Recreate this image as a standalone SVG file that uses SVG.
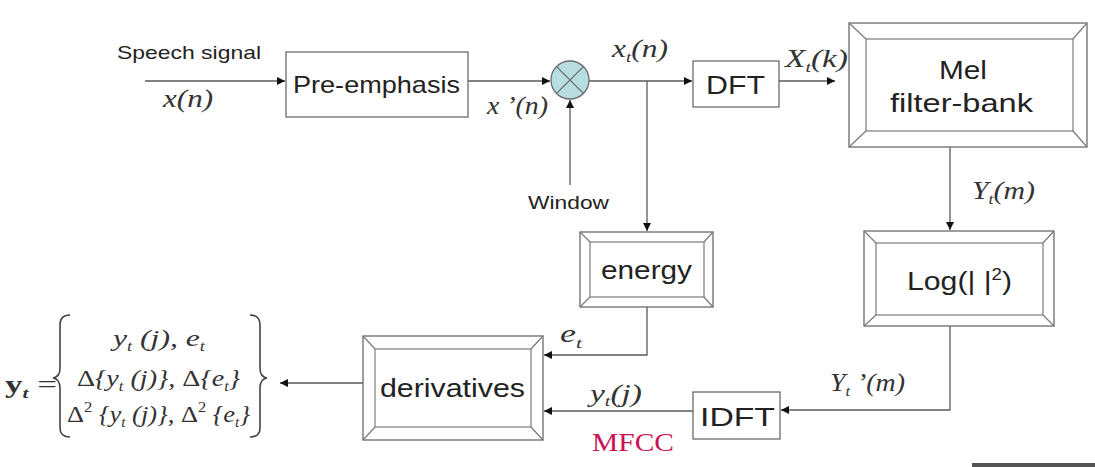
<svg xmlns="http://www.w3.org/2000/svg" width="1095" height="467" viewBox="0 0 1095 467">
<style>
.box{fill:#fff;stroke:#6a6a6a;stroke-width:1.3}
.bev{fill:none;stroke:#7a7a7a;stroke-width:1.2}
.ln{fill:none;stroke:#5a5a5a;stroke-width:1.3}
.lbl{font-family:"Liberation Sans",Arial,sans-serif;fill:#222}
.m{font-family:"Liberation Serif","Times New Roman",serif;font-style:italic;fill:#333}
.mr{font-family:"Liberation Serif","Times New Roman",serif;fill:#333}
</style>
<defs>
<marker id="ah" viewBox="0 0 10 10" refX="10" refY="5" markerWidth="8" markerHeight="8" markerUnits="userSpaceOnUse" orient="auto">
<path d="M0,0 L10,5 L0,10 z" fill="#111"/>
</marker>
</defs>
<rect width="1095" height="467" fill="#fff"/>

<g id="connectors">
<line class="ln" x1="145" y1="81" x2="285" y2="81" marker-end="url(#ah)"/>
<line class="ln" x1="468" y1="81" x2="550" y2="81" marker-end="url(#ah)"/>
<line class="ln" x1="570" y1="185" x2="570" y2="100" marker-end="url(#ah)"/>
<line class="ln" x1="589" y1="81" x2="692" y2="81" marker-end="url(#ah)"/>
<line class="ln" x1="647" y1="81" x2="647" y2="231" marker-end="url(#ah)"/>
<line class="ln" x1="779" y1="81" x2="835" y2="81" marker-end="url(#ah)"/>
<line class="ln" x1="950" y1="147" x2="950" y2="230" marker-end="url(#ah)"/>
<polyline class="ln" points="950,326 950,410 781,410" marker-end="url(#ah)"/>
<line class="ln" x1="693" y1="411" x2="544" y2="411" marker-end="url(#ah)"/>
<polyline class="ln" points="647,307 647,355 544,355" marker-end="url(#ah)"/>
<line class="ln" x1="363" y1="383" x2="280" y2="383" marker-end="url(#ah)"/>
</g>

<g id="speech-input">
<text class="lbl" x="117" y="59" font-size="19" textLength="144" lengthAdjust="spacingAndGlyphs">Speech signal</text>
<text class="m" x="163" y="107" font-size="25" textLength="50" lengthAdjust="spacingAndGlyphs">x(n)</text>
</g>

<g id="pre-emphasis">
<rect class="box" x="286" y="52" width="182" height="65"/>
<text class="lbl" x="293" y="93" font-size="24" textLength="167" lengthAdjust="spacingAndGlyphs">Pre-emphasis</text>
</g>

<g id="multiplier">
<circle cx="570" cy="80" r="19" fill="#b8dde0" stroke="#6a6a6a" stroke-width="1.3"/>
<line x1="556.6" y1="66.6" x2="583.4" y2="93.4" stroke="#6a6a6a" stroke-width="1.3"/>
<line x1="583.4" y1="66.6" x2="556.6" y2="93.4" stroke="#6a6a6a" stroke-width="1.3"/>
<text class="m" x="487" y="114" font-size="25" textLength="61" lengthAdjust="spacingAndGlyphs">x ’(n)</text>
<text class="m" x="612" y="57" font-size="25" textLength="56" lengthAdjust="spacingAndGlyphs">x<tspan font-size="15" dy="5">t</tspan><tspan dy="-5">(n)</tspan></text>
</g>

<g id="window">
<text class="lbl" x="528" y="209" font-size="19" textLength="81" lengthAdjust="spacingAndGlyphs">Window</text>
</g>

<g id="dft">
<rect class="box" x="693" y="61" width="86" height="46"/>
<text class="lbl" x="706" y="94" font-size="25" textLength="59" lengthAdjust="spacingAndGlyphs">DFT</text>
<text class="m" x="785" y="67" font-size="25" textLength="63" lengthAdjust="spacingAndGlyphs">X<tspan font-size="15" dy="5">t</tspan><tspan dy="-5">(k)</tspan></text>
</g>

<g id="mel">
<rect class="box" x="849" y="23" width="238" height="124"/>
<rect class="bev" x="866" y="39" width="207" height="92"/>
<path class="bev" d="M849,23 L866,39 M1087,23 L1073,39 M849,147 L866,131 M1087,147 L1073,131"/>
<text class="lbl" x="939" y="79" font-size="26" textLength="48" lengthAdjust="spacingAndGlyphs">Mel</text>
<text class="lbl" x="890" y="112" font-size="26" textLength="143" lengthAdjust="spacingAndGlyphs">filter-bank</text>
<text class="m" x="972" y="199" font-size="25" textLength="63" lengthAdjust="spacingAndGlyphs">Y<tspan font-size="15" dy="5">t</tspan><tspan dy="-5">(m)</tspan></text>
</g>

<g id="log">
<rect class="box" x="864" y="231" width="190" height="95"/>
<rect class="bev" x="876" y="243" width="167" height="72"/>
<path class="bev" d="M864,231 L876,243 M1054,231 L1043,243 M864,326 L876,315 M1054,326 L1043,315"/>
<text class="lbl" x="907" y="290" font-size="26" textLength="105" lengthAdjust="spacingAndGlyphs">Log(| |<tspan font-size="16" dy="-10">2</tspan><tspan dy="10">)</tspan></text>
<text class="m" x="830" y="391" font-size="25" textLength="75" lengthAdjust="spacingAndGlyphs">Y<tspan font-size="15" dy="5">t</tspan><tspan dy="-5"> ’(m)</tspan></text>
</g>

<g id="idft">
<rect class="box" x="693" y="392" width="87" height="47"/>
<text class="lbl" x="700" y="426" font-size="25" textLength="75" lengthAdjust="spacingAndGlyphs">IDFT</text>
</g>

<g id="energy">
<rect class="box" x="580" y="232" width="133" height="75"/>
<rect class="bev" x="590" y="242" width="114" height="55"/>
<path class="bev" d="M580,232 L590,242 M713,232 L704,242 M580,307 L590,297 M713,307 L704,297"/>
<text class="lbl" x="601" y="279" font-size="26" textLength="91" lengthAdjust="spacingAndGlyphs">energy</text>
<text class="m" x="560" y="342" font-size="25" textLength="22" lengthAdjust="spacingAndGlyphs">e<tspan font-size="15" dy="6">t</tspan></text>
</g>

<g id="derivatives">
<rect class="box" x="363" y="336" width="180" height="104"/>
<rect class="bev" x="375" y="349" width="156" height="78"/>
<path class="bev" d="M363,336 L375,349 M543,336 L531,349 M363,440 L375,427 M543,440 L531,427"/>
<text class="lbl" x="380" y="397" font-size="26" textLength="145" lengthAdjust="spacingAndGlyphs">derivatives</text>
<text class="m" x="590" y="402" font-size="25" textLength="52" lengthAdjust="spacingAndGlyphs">y<tspan font-size="15" dy="4">t</tspan><tspan dy="-4">(j)</tspan></text>
<text class="mr" x="592" y="451" font-size="25" textLength="82" lengthAdjust="spacingAndGlyphs" style="fill:#cc1058">MFCC</text>
</g>

<g id="formula">
<text class="mr" x="5" y="393" font-size="25" font-weight="bold" textLength="52" lengthAdjust="spacingAndGlyphs">y<tspan font-size="15" font-style="italic" dy="5">t</tspan><tspan dy="-5" font-weight="normal"> =</tspan></text>
<path d="M70,315 Q60,315 60,325 L60,368 Q60,377 53,378 Q60,379 60,388 L60,428 Q60,437 70,437" fill="none" stroke="#444" stroke-width="1.6"/>
<path d="M250,315 Q260,315 260,325 L260,368 Q260,377 267,378 Q260,379 260,388 L260,428 Q260,437 250,437" fill="none" stroke="#444" stroke-width="1.6"/>
<text class="m" x="113" y="346" font-size="24" textLength="92" lengthAdjust="spacingAndGlyphs">y<tspan font-size="14" dy="5">t</tspan><tspan dy="-5">  (j), e</tspan><tspan font-size="14" dy="5">t</tspan></text>
<text class="m" x="77" y="386" font-size="24" textLength="163" lengthAdjust="spacingAndGlyphs"><tspan font-style="normal">Δ</tspan>{y<tspan font-size="14" dy="5">t</tspan><tspan dy="-5">  (j)}, </tspan><tspan font-style="normal">Δ</tspan>{e<tspan font-size="14" dy="5">t</tspan><tspan dy="-5">}</tspan></text>
<text class="m" x="67" y="422" font-size="24" textLength="183" lengthAdjust="spacingAndGlyphs"><tspan font-style="normal">Δ</tspan><tspan font-style="normal" font-size="15" dy="-10">2</tspan><tspan dy="10"> {y</tspan><tspan font-size="14" dy="5">t</tspan><tspan dy="-5">  (j)}, </tspan><tspan font-style="normal">Δ</tspan><tspan font-style="normal" font-size="15" dy="-10">2</tspan><tspan dy="10"> {e</tspan><tspan font-size="14" dy="5">t</tspan><tspan dy="-5">}</tspan></text>
</g>

<rect x="972" y="463" width="123" height="4" fill="#555"/>
</svg>
